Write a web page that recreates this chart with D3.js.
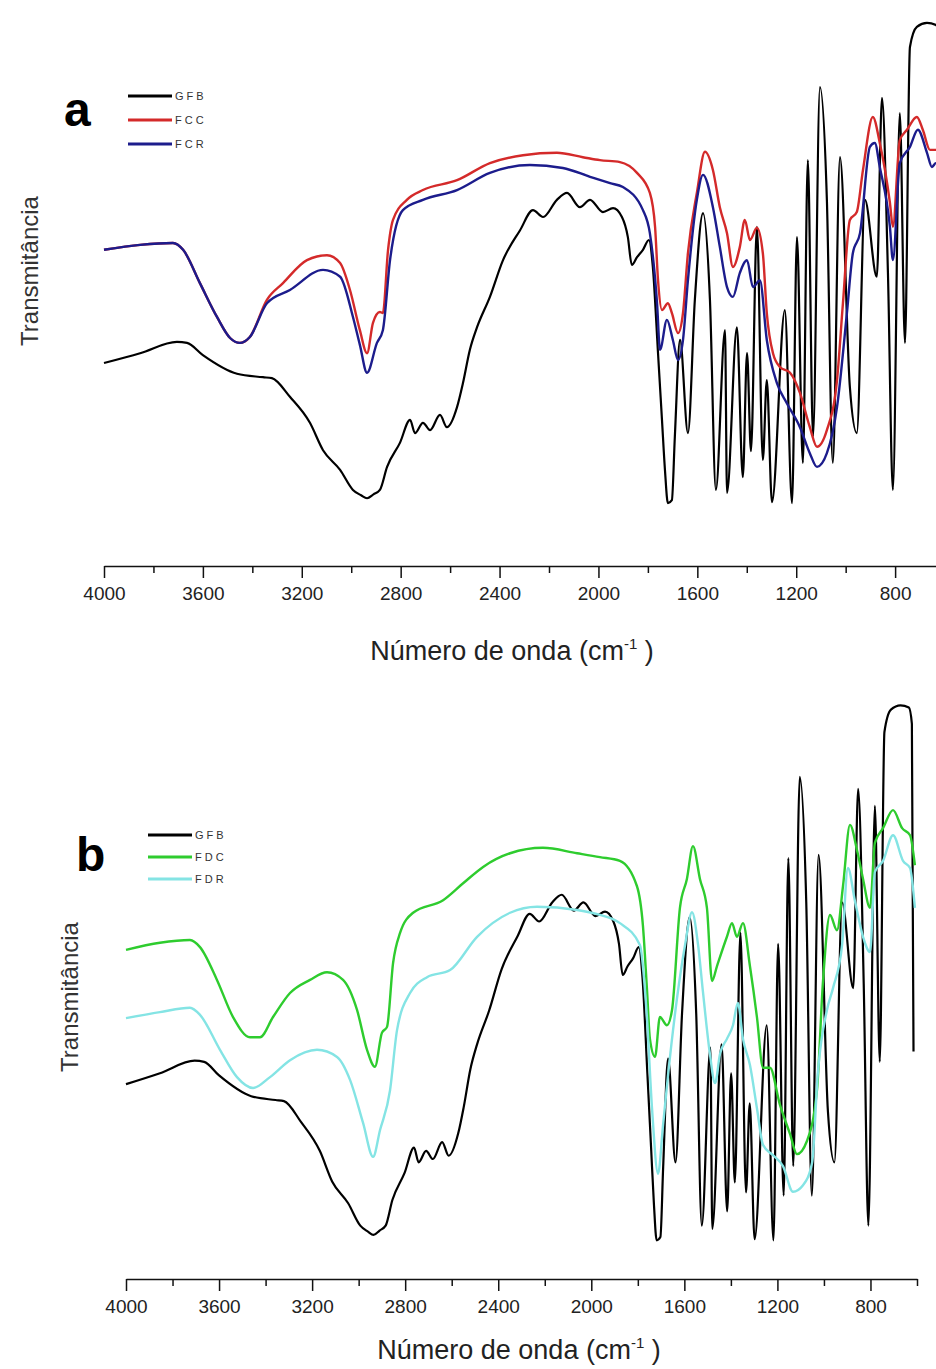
<!DOCTYPE html>
<html>
<head>
<meta charset="utf-8">
<script src="https://cdn.jsdelivr.net/npm/d3@7"></script>
<style>
body { margin: 0; background: #fff; }
svg { display: block; }
text { font-family: "Liberation Sans", Arial, sans-serif; }
</style>
</head>
<body>
<svg id="chart" width="936" height="1369"></svg>
<script>
// FTIR spectra, [wavenumber cm-1, relative transmittance 0-100]
var GFB = [
    [4000,30.0],[3854,32.0],[3705,34.3],[3664,34.1],[3600,31.6],[3462,27.8],[3357,27.1],[3321,26.9],
    [3248,23.1],[3167,17.8],[3114,12.2],[3045,8.2],[2993,4.1],[2960,3.0],[2936,2.4],[2910,3.2],[2884,4.1],[2855,8.8],
    [2803,13.7],[2762,18.4],[2742,15.7],[2710,17.8],[2681,16.3],[2641,19.4],[2613,16.9],[2572,21.0],
    [2548,25.9],[2520,32.7],[2491,37.3],[2439,43.5],[2386,51.0],[2317,57.1],[2265,61.2],[2224,59.8],
    [2168,63.3],[2127,64.7],[2075,61.8],[2034,63.3],[1982,60.8],[1941,61.6],[1905,59.8],[1881,55.7],
    [1865,50.0],[1844,51.6],[1820,53.1],[1796,55.1],[1780,49.6],[1759,32.0],[1743,18.4],[1731,8.2],
    [1719,1.4],[1703,2.0],[1691,14.9],[1670,34.7],[1638,15.7],[1610,42.9],[1577,60.6],[1549,42.9],
    [1525,4.1],[1488,36.7],[1480,3.5],[1440,37.3],[1416,6.7],[1399,32.0],[1383,12.0],[1359,57.8],[1335,10.2],[1319,26.5],
    [1298,1.6],[1246,40.8],[1217,1.4],[1197,55.7],[1173,9.6],[1153,71.4],[1132,15.0],[1104,86.3],
    [1076,63.3],[1052,9.6],[1023,72.0],[983,25.1],[955,15.7],[922,63.3],[874,47.6],[853,84.1],
    [829,48.4],[809,4.1],[781,81.0],[760,34.1],[740,94.5],[712,98.6],[671,99.4],[635,99.0],
    [622,96.0],[615,36.0]
];

var FCC = [
    [4000,53.1],[3854,54.1],[3721,54.5],[3680,53.1],[3612,46.3],[3543,39.4],[3490,35.1],[3450,34.1],
    [3410,35.3],[3341,42.9],[3276,46.3],[3179,51.0],[3098,52.0],[3045,50.4],[3005,44.9],[2965,36.7],
    [2936,32.0],[2912,38.2],[2884,40.4],[2872,40.2],[2851,53.1],[2831,59.2],[2775,63.3],[2710,65.3],
    [2572,67.3],[2439,70.8],[2305,72.4],[2168,72.9],[2063,72.0],[1994,71.4],[1913,71.0],[1844,68.8],
    [1792,64.7],[1771,57.8],[1759,46.9],[1743,40.8],[1719,42.2],[1703,40.2],[1678,36.1],[1658,40.2],
    [1638,52.4],[1602,64.7],[1569,73.1],[1537,69.4],[1509,61.8],[1480,56.5],[1456,49.6],[1428,53.7],
    [1408,59.2],[1387,55.1],[1359,57.6],[1335,52.4],[1319,40.2],[1294,32.0],[1266,29.2],[1225,28.0],
    [1185,23.9],[1145,16.9],[1116,12.9],[1076,16.3],[1035,26.5],[1011,42.2],[983,59.2],[955,60.8],
    [930,69.4],[890,80.2],[862,74.9],[821,62.7],[809,57.8],[781,75.5],[752,77.6],[712,80.2],
    [688,77.6],[659,73.5],[635,73.5],[600,72.0]
];

var FCR = [
    [4000,53.1],[3854,54.1],[3721,54.5],[3680,53.1],[3612,46.3],[3543,39.4],[3490,35.1],[3450,34.1],
    [3410,35.3],[3341,42.2],[3248,44.9],[3114,49.0],[3045,47.6],[2993,39.4],[2965,33.7],[2936,28.0],
    [2896,34.1],[2872,36.7],[2843,51.0],[2791,61.2],[2710,63.3],[2572,65.3],[2439,68.8],[2277,70.4],
    [2144,69.8],[2034,68.0],[1953,66.7],[1901,65.9],[1820,61.2],[1792,56.5],[1763,42.2],[1751,32.7],
    [1723,38.8],[1699,34.7],[1678,30.6],[1658,34.7],[1638,46.9],[1602,63.3],[1577,68.4],[1537,61.8],
    [1509,53.7],[1480,45.5],[1456,43.5],[1428,48.4],[1399,51.0],[1375,45.5],[1347,46.9],[1319,34.7],
    [1278,25.9],[1238,21.8],[1185,16.9],[1145,11.6],[1116,8.8],[1076,11.6],[1035,21.0],[995,40.2],
    [971,52.4],[942,56.5],[902,74.1],[882,74.9],[862,70.0],[821,57.8],[809,51.0],[781,70.8],
    [740,74.1],[708,77.6],[671,72.9],[651,70.0],[635,70.8],[600,70.0]
];

var FDC = [
    [4000,54.6],[3854,55.9],[3725,56.4],[3682,55.1],[3609,49.1],[3540,42.3],[3467,38.6],[3424,38.6],
    [3368,42.3],[3295,46.7],[3209,49.1],[3136,50.5],[3067,49.1],[3007,43.6],[2964,36.3],[2930,33.2],
    [2900,39.4],[2878,40.5],[2852,52.2],[2822,57.7],[2766,61.4],[2637,63.7],[2551,66.8],[2465,69.8],
    [2349,72.3],[2208,73.3],[2061,72.3],[1963,71.6],[1877,70.9],[1804,66.3],[1778,59.0],[1761,47.6],
    [1748,38.3],[1726,35.0],[1705,42.3],[1675,40.8],[1653,43.6],[1619,62.3],[1589,67.6],[1563,73.6],
    [1533,67.6],[1503,62.3],[1481,48.9],[1460,51.6],[1417,57.0],[1395,59.5],[1374,57.0],[1348,59.5],
    [1318,51.6],[1288,42.3],[1262,33.0],[1232,33.0],[1189,26.2],[1146,20.9],[1116,17.2],[1073,19.6],
    [1030,28.9],[1004,48.9],[974,61.0],[944,58.2],[918,66.3],[888,77.5],[858,72.9],[832,67.6],
    [802,62.3],[781,74.2],[746,76.9],[703,80.2],[664,76.9],[630,75.6],[609,70.1]
];

var FDR = [
    [4000,42.1],[3854,43.2],[3725,44.0],[3682,42.7],[3596,36.3],[3523,31.3],[3454,29.3],[3381,31.3],
    [3295,34.4],[3179,36.3],[3093,35.0],[3037,30.8],[2981,22.9],[2938,16.7],[2908,21.6],[2865,28.9],
    [2835,39.9],[2779,46.7],[2706,49.6],[2607,50.9],[2491,57.0],[2349,61.4],[2233,62.5],[2061,61.9],
    [1963,61.0],[1877,59.5],[1791,55.5],[1761,42.3],[1739,25.6],[1713,13.6],[1692,22.3],[1670,31.7],
    [1632,45.6],[1597,55.5],[1567,61.5],[1541,55.5],[1520,46.9],[1490,35.5],[1468,30.2],[1447,35.5],
    [1417,38.3],[1391,40.8],[1370,44.9],[1348,38.3],[1318,33.5],[1288,25.6],[1262,18.9],[1219,17.0],
    [1176,15.0],[1133,10.3],[1090,11.5],[1051,15.6],[1026,32.2],[987,43.6],[961,47.6],[922,55.5],
    [897,69.6],[867,63.6],[832,57.0],[802,54.2],[781,68.9],[746,70.9],[703,75.6],[660,70.9],
    [630,69.6],[609,62.3]
];

var majorTicks = [4000, 3600, 3200, 2800, 2400, 2000, 1600, 1200, 800];
var minorTicks = [3800, 3400, 3000, 2600, 2200, 1800, 1400, 1000, 600];

var namesA = ["GFB", "FCC", "FCR"];
var namesB = ["GFB", "FDC", "FDR"];

var svg = d3.select("#chart");
svg.append("rect").attr("width", 936).attr("height", 1369).attr("fill", "#fff");

function drawPanel(p) {
    var g = svg.append("g");

    var x = d3.scaleLinear().domain(p.xDomain).range(p.xRange);
    var y = d3.scaleLinear().domain([0, 100]).range(p.yRange);

    var line = d3.line()
        .curve(d3.curveMonotoneX)
        .x(function(d) { return x(d[0]); })
        .y(function(d) { return y(d[1]); });

    g.selectAll(".spectrum")
        .data(p.series)
        .enter().append("path")
        .attr("class", "spectrum")
        .attr("d", function(s) { return line(s.data); })
        .attr("fill", "none")
        .attr("stroke", function(s) { return s.color; })
        .attr("stroke-width", function(s) { return s.width; })
        .attr("stroke-linejoin", "round");

    // major + minor ticks along the bottom
    var axisMajor = g.append("g")
        .attr("transform", "translate(0," + p.axisY + ")")
        .call(d3.axisBottom(x)
            .tickValues(majorTicks)
            .tickSize(12)
            .tickSizeOuter(0)
            .tickPadding(9)
            .tickFormat(d3.format("d")));
    axisMajor.select(".domain").attr("stroke", "#111").attr("stroke-width", 1.6);
    axisMajor.selectAll(".tick line").attr("stroke", "#111").attr("stroke-width", 1.5);
    axisMajor.selectAll(".tick text")
        .attr("fill", "#222")
        .style("font-size", "19px");

    var axisMinor = g.append("g")
        .attr("transform", "translate(0," + p.axisY + ")")
        .call(d3.axisBottom(x)
            .tickValues(minorTicks)
            .tickSize(7)
            .tickFormat(""));
    axisMinor.select(".domain").remove();
    axisMinor.selectAll(".tick line").attr("stroke", "#111").attr("stroke-width", 1.5);

    var title = g.append("text")
        .attr("x", p.titleX)
        .attr("y", p.titleY)
        .attr("text-anchor", "middle")
        .attr("fill", "#222")
        .style("font-size", "27px");
    title.append("tspan").text("Número de onda (cm");
    title.append("tspan").attr("dy", -11).style("font-size", "15px").text("-1");
    title.append("tspan").attr("dy", 11).text(" )");

    g.append("text")
        .attr("transform", "translate(" + p.ylabX + "," + p.ylabY + ") rotate(-90)")
        .attr("text-anchor", "middle")
        .attr("fill", "#333")
        .style("font-size", "24px")
        .text("Transmitância");

    g.append("text")
        .attr("x", p.letterX)
        .attr("y", p.letterY)
        .attr("fill", "#000")
        .style("font-size", "48px")
        .style("font-weight", "bold")
        .text(p.letter);

    var leg = g.selectAll(".legend")
        .data(p.series)
        .enter().append("g")
        .attr("class", "legend")
        .attr("transform", function(d, i) { return "translate(" + p.legX + "," + (p.legY + i * p.legDy) + ")"; });
    leg.append("line")
        .attr("x1", 0).attr("x2", 44)
        .attr("stroke", function(d) { return d.color; })
        .attr("stroke-width", 3);
    leg.append("text")
        .attr("x", 47)
        .attr("y", 4)
        .attr("fill", "#333")
        .style("font-size", "11px")
        .style("letter-spacing", "3px")
        .text(function(d) { return d.name; });
}

drawPanel({
    xDomain: [4000, 400], xRange: [104, 994],
    yRange: [510, 20],
    axisY: 566,
    titleX: 512, titleY: 660,
    ylabX: 38, ylabY: 271,
    letter: "a", letterX: 64, letterY: 126,
    legX: 128, legY: 96, legDy: 24,
    series: [
        { name: namesA[0], data: GFB, color: "#000000", width: 2.2 },
        { name: namesA[1], data: FCC, color: "#d42a2a", width: 2.4 },
        { name: namesA[2], data: FCR, color: "#1c1c8c", width: 2.4 }
    ]
});

drawPanel({
    xDomain: [4000, 600], xRange: [126, 917],
    yRange: [1248, 702],
    axisY: 1279,
    titleX: 519, titleY: 1359,
    ylabX: 78, ylabY: 997,
    letter: "b", letterX: 76, letterY: 871,
    legX: 148, legY: 835, legDy: 22,
    series: [
        { name: namesB[0], data: GFB, color: "#000000", width: 2.2 },
        { name: namesB[1], data: FDC, color: "#2ecc2e", width: 2.4 },
        { name: namesB[2], data: FDR, color: "#84e4e4", width: 2.4 }
    ]
});
</script>
</body>
</html>
